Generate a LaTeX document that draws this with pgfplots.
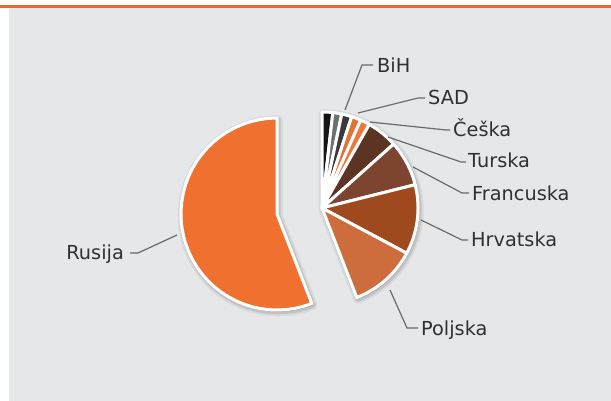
\documentclass[border=0pt]{standalone}
\usepackage{fontspec}
\setmainfont{DejaVu Sans}
\usepackage{pgfplots}
\usepgfplotslibrary{polar}
\pgfplotsset{compat=1.18}

\definecolor{bgGray}{HTML}{E6E7E9}
\definecolor{topLine}{HTML}{E8692A}
\definecolor{cRus}{HTML}{F07030}
\definecolor{cPol}{HTML}{CD6D3D}
\definecolor{cHrv}{HTML}{9E4A1E}
\definecolor{cFra}{HTML}{7D4530}
\definecolor{cTur}{HTML}{5B3424}
\definecolor{cCes}{HTML}{EA7A3C}
\definecolor{cSAD}{HTML}{E47033}
\definecolor{cBiH}{HTML}{3A3A3A}
\definecolor{cGry}{HTML}{707070}
\definecolor{cBlk}{HTML}{141414}
\definecolor{txt}{HTML}{303030}
\definecolor{lead}{HTML}{6A6A6A}

% shares in percent
\def\vRus{55.9}
\def\vBlk{1.8}
\def\vGry{1.5}
\def\vBiH{1.7}
\def\vSAD{1.6}
\def\vCes{1.6}
\def\vTur{5.2}
\def\vFra{7.7}
\def\vHrv{11.7}
\def\vPol{11.3}

\pgfmathsetmacro\aA{90}
\pgfmathsetmacro\aB{\aA-3.6*\vBlk}
\pgfmathsetmacro\aC{\aB-3.6*\vGry}
\pgfmathsetmacro\aD{\aC-3.6*\vBiH}
\pgfmathsetmacro\aE{\aD-3.6*\vSAD}
\pgfmathsetmacro\aF{\aE-3.6*\vCes}
\pgfmathsetmacro\aG{\aF-3.6*\vTur}
\pgfmathsetmacro\aH{\aG-3.6*\vFra}
\pgfmathsetmacro\aI{\aH-3.6*\vHrv}
\pgfmathsetmacro\aJ{\aI-3.6*\vPol}
\pgfmathsetmacro\aK{\aJ-3.6*\vRus}

\pgfplotsset{
  pieaxis/.style={hide axis, scale only axis, width=192bp, height=192bp,
    ymin=0, ymax=1, clip=false, anchor=origin},
  slice/.style={draw=white, line width=3bp, line join=round, samples=40, forget plot},
  shad/.style={draw=black, fill=black, line join=round, samples=60, forget plot,
    xshift=1.2bp, yshift=-1.8bp},
}

\begin{document}
\begin{tikzpicture}
\useasboundingbox (0,0) rectangle (611bp,401bp);
\fill[white] (0,0) rectangle (611bp,401bp);
\fill[bgGray] (8.7bp,0) rectangle (611bp,393bp);
\fill[topLine] (0,393bp) rectangle (611bp,395.5bp);

% right group
\begin{polaraxis}[pieaxis, at={(322bp,193bp)}]
\addplot[shad, opacity=0.06, line width=9bp, domain=\aJ:\aA] {1} -- (axis cs:0,0) -- cycle;
\addplot[shad, opacity=0.10, line width=5bp, domain=\aJ:\aA] {1} -- (axis cs:0,0) -- cycle;
\addplot[slice, fill=cBlk, domain=\aB:\aA] {1} -- (axis cs:0,0) -- cycle;
\addplot[slice, fill=cGry, domain=\aC:\aB] {1} -- (axis cs:0,0) -- cycle;
\addplot[slice, fill=cBiH, domain=\aD:\aC] {1} -- (axis cs:0,0) -- cycle;
\addplot[slice, fill=cSAD, domain=\aE:\aD] {1} -- (axis cs:0,0) -- cycle;
\addplot[slice, fill=cCes, domain=\aF:\aE] {1} -- (axis cs:0,0) -- cycle;
\addplot[slice, fill=cTur, domain=\aG:\aF] {1} -- (axis cs:0,0) -- cycle;
\addplot[slice, fill=cFra, domain=\aH:\aG] {1} -- (axis cs:0,0) -- cycle;
\addplot[slice, fill=cHrv, domain=\aI:\aH] {1} -- (axis cs:0,0) -- cycle;
\addplot[slice, fill=cPol, domain=\aJ:\aI] {1} -- (axis cs:0,0) -- cycle;
\end{polaraxis}

% exploded Rusija
\begin{polaraxis}[pieaxis, at={(277bp,187bp)}]
\addplot[shad, opacity=0.06, line width=9bp, domain=\aK:\aJ] {1} -- (axis cs:0,0) -- cycle;
\addplot[shad, opacity=0.10, line width=5bp, domain=\aK:\aJ] {1} -- (axis cs:0,0) -- cycle;
\addplot[slice, fill=cRus, domain=\aK:\aJ] {1} -- (axis cs:0,0) -- cycle;
\end{polaraxis}

% leader lines
\begin{scope}[lead, line width=1.2bp]
\draw (345bp,291bp) -- (362bp,336bp) -- (373bp,336bp);
\draw (358bp,288bp) -- (418bp,303bp) -- (425bp,303bp);
\draw (370bp,279bp) -- (446bp,271bp) -- (450bp,271bp);
\draw (388bp,264bp) -- (461bp,239bp) -- (466bp,239bp);
\draw (413bp,234bp) -- (462bp,208bp) -- (469bp,208bp);
\draw (421bp,181bp) -- (462bp,161bp) -- (468bp,161bp);
\draw (390bp,111bp) -- (407bp,73bp) -- (418bp,73bp);
\draw (177bp,166bp) -- (138bp,148bp) -- (130bp,148bp);
\end{scope}

% labels
\begin{scope}[every node/.style={text=txt, inner sep=0pt, anchor=base west,
    font=\fontsize{19.3bp}{22bp}\selectfont}]
\node at (377bp,328bp) {BiH};
\node at (428bp,296bp) {SAD};
\node at (453bp,264bp) {Češka};
\node at (468bp,233bp) {Turska};
\node at (472bp,200bp) {Francuska};
\node at (471bp,154bp) {Hrvatska};
\node at (421bp,65bp) {Poljska};
\node[anchor=base east] at (124bp,141bp) {Rusija};
\end{scope}
\end{tikzpicture}
\end{document}
